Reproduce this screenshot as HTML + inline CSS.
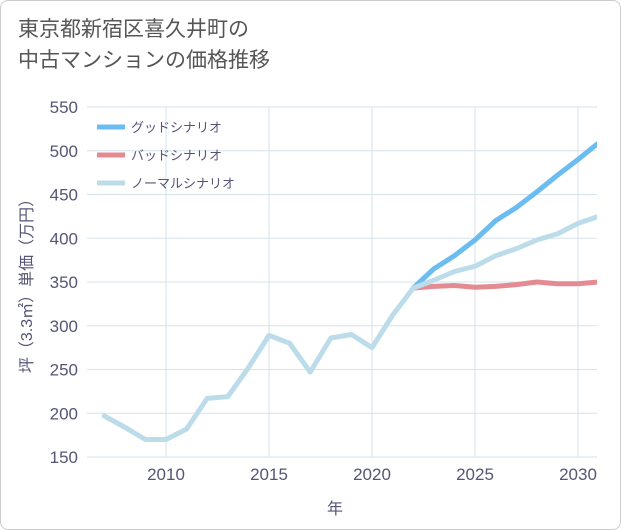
<!DOCTYPE html>
<html><head><meta charset="utf-8"><style>
body{margin:0;background:#fff;}
#wrap{position:relative;width:621px;height:530px;font-family:"Liberation Sans","Noto Sans CJK JP",sans-serif;}
#frame{position:absolute;left:0;top:0;width:619px;height:528px;border:1px solid #ccc;border-radius:8px;}
#title{position:absolute;left:18px;top:14px;font-size:21px;color:#555;line-height:31px;}
</style></head><body>
<div id="wrap">
<div id="frame"></div>
<div id="title">東京都新宿区喜久井町の<br>中古マンションの価格推移</div>
<svg id="chart" width="621" height="530" style="position:absolute;left:0;top:0"><defs><clipPath id="plotclip"><rect x="87" y="100" width="510" height="360"/></clipPath></defs></svg>
</div>
<script>
const yearsNormal=[2007,2008,2009,2010,2011,2012,2013,2014,2015,2016,2017,2018,2019,2020,2021,2022,2023,2024,2025,2026,2027,2028,2029,2030,2031];
const normalValues=[197,184,170,170,182,217,219,252,289,280,247,286,290,275,312,343,352,362,368,380,388,398,405,417,425];
const yearsScenario=[2022,2023,2024,2025,2026,2027,2028,2029,2030,2031];
const goodValues=[343,365,380,398,420,435,453,472,490,509];
const badValues=[343,345,346,344,345,347,350,348,348,350];
const yTicks=[150,200,250,300,350,400,450,500,550];
const xTicks=[2010,2015,2020,2025,2030];
const legendLabels=["グッドシナリオ","バッドシナリオ","ノーマルシナリオ"];
const legendColors=["#6bbcf0","#e48a92","#bcdcea"];

const L=87,R=597,T=107,B=457;
const x=v=>166+(v-2010)*20.6;
const y=v=>B-(v-150)*(B-T)/400;
const svg=document.getElementById('chart');
const NS='http://www.w3.org/2000/svg';
function mk(tag,attrs,parent){const e=document.createElementNS(NS,tag);for(const k in attrs)e.setAttribute(k,attrs[k]);(parent||svg).appendChild(e);return e;}

yTicks.forEach(t=>{
  const g=mk('line',{x1:L,x2:R,y1:y(t),y2:y(t),stroke:'#d5e3ec','stroke-width':1});
  
  
  const tx=mk('text',{x:78,y:y(t)+6,'text-anchor':'end','font-size':17,fill:'#557'});
  tx.textContent=t;
  
  
});
xTicks.forEach(t=>{
  const g=mk('line',{x1:x(t),x2:x(t),y1:T,y2:B,stroke:'#d5e3ec','stroke-width':1});
  
  
  const tx=mk('text',{x:x(t),y:480,'text-anchor':'middle','font-size':17,fill:'#557'});
  tx.textContent=t;
  
  
});
const xt=mk('text',{x:335,y:514,'text-anchor':'middle','font-size':16,fill:'#557'});
xt.textContent='年';


const yt=mk('text',{x:0,y:0,'text-anchor':'middle','font-size':16,fill:'#557',transform:'translate(32,'+((T+B)/2)+') rotate(-90)'});
yt.textContent='坪（3.3㎡）単価（万円）';



function line(xs,vs,color,name){
  const d=xs.map((v,i)=>(i?'L':'M')+x(v)+','+y(vs[i])).join(' ');
  const p=mk('path',{d:d,fill:'none',stroke:color,'stroke-width':5,'stroke-linejoin':'round','stroke-linecap':'round','clip-path':'url(#plotclip)'});
  
  
}
line(yearsScenario,goodValues,legendColors[0],'good-scenario-line');
line(yearsScenario,badValues,legendColors[1],'bad-scenario-line');
line(yearsNormal,normalValues,legendColors[2],'normal-scenario-line');

legendLabels.forEach((lab,i)=>{
  const ly=127+i*28;
  const l=mk('line',{x1:97,x2:125,y1:ly,y2:ly,stroke:legendColors[i],'stroke-width':5});
  
  
  const t=mk('text',{x:131,y:ly+5,'font-size':13,fill:'#557'});
  t.textContent=lab;
  
  
});
</script>
</body></html>
